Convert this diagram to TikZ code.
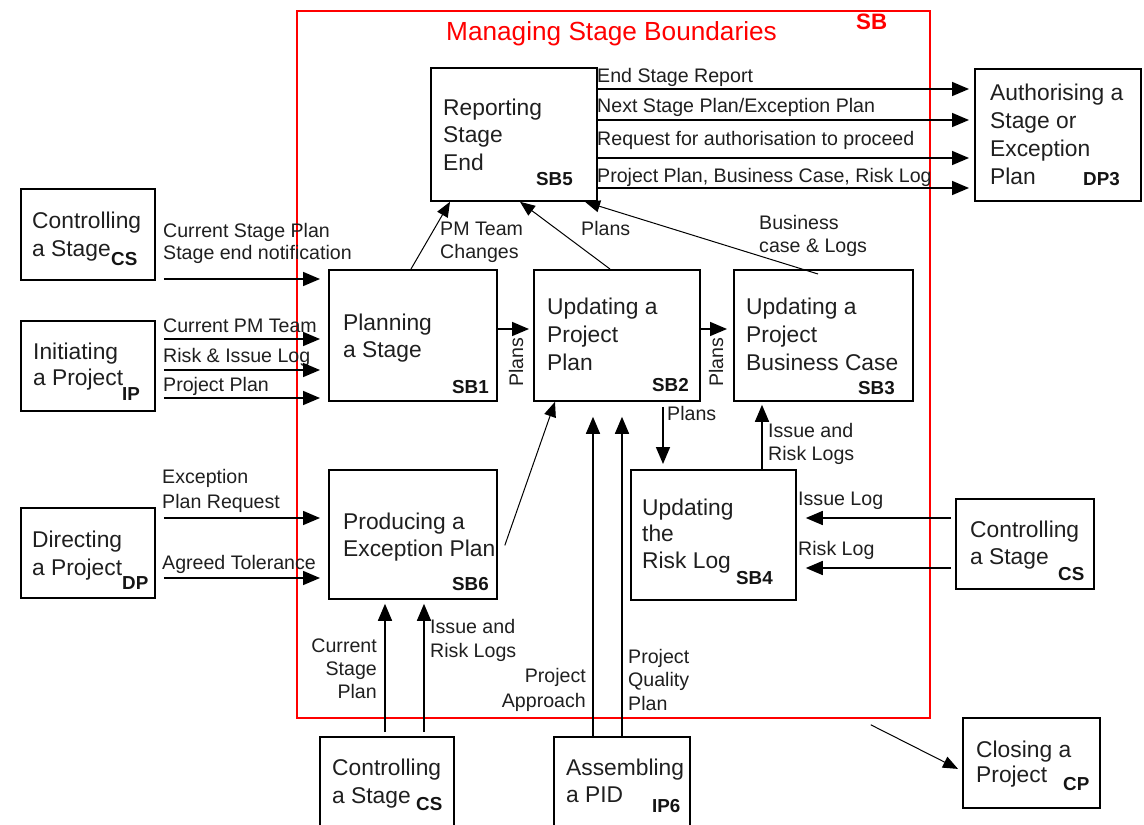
\documentclass[tikz,border=0pt]{standalone}
\usepackage{fontspec}
\setmainfont{Liberation Sans}
\usetikzlibrary{arrows.meta,calc}

% place a column of text lines, one named node per line
\newcommand\stacklines[6]{%
  \foreach \tline [count=\k] in {#6}{%
    \node[#2] (#1-\k) at ({#3},{#4+(\k-1)*#5}) {\tline};}}

\begin{document}
\begin{tikzpicture}[x=1pt,y=-1pt,
  procbox/.style={draw, line width=1.8pt, inner sep=0pt, anchor=north west},
  boxtxt/.style={anchor=base west, inner sep=0pt, text=black!88, font=\fontsize{22.8}{28}\selectfont},
  lbl/.style={anchor=base west, inner sep=0pt, text=black!88, font=\fontsize{19.6}{23}\selectfont},
  lblr/.style={lbl, anchor=base east},
  code/.style={anchor=base west, inner sep=0pt, text=black!92, font=\bfseries\fontsize{18.8}{22}\selectfont},
  arr/.style={line width=1.6pt, -{Triangle[length=17pt,width=14pt]}},
  diag/.style={line width=1pt, -{Triangle[length=15pt,width=12pt]}},
]
\clip (0,0) rectangle (1144,825);

% stage boundary frame
\node[procbox, draw=red, line width=1.8pt, minimum width=633, minimum height=707] (sb) at (296,10) {};
\node[anchor=base west, inner sep=0pt, text=red, font=\fontsize{26.2}{30}\selectfont] (title) at (446,40) {Managing Stage Boundaries};
\node[anchor=base west, inner sep=0pt, text=red, font=\bfseries\fontsize{22.3}{26}\selectfont] (sbcode) at (856,29) {SB};

% process boxes
\node[procbox, minimum width=134, minimum height=91]  (csl) at (20,188) {};
\node[procbox, minimum width=134, minimum height=90]  (ip)  at (20,320) {};
\node[procbox, minimum width=134, minimum height=90]  (dp)  at (20,507) {};
\node[procbox, minimum width=166, minimum height=133] (sb5) at (430,67) {};
\node[procbox, minimum width=166, minimum height=132] (dp3) at (974,68) {};
\node[procbox, minimum width=168, minimum height=131] (sb1) at (328,269) {};
\node[procbox, minimum width=166, minimum height=131] (sb2) at (533,269) {};
\node[procbox, minimum width=179, minimum height=131] (sb3) at (733,269) {};
\node[procbox, minimum width=168, minimum height=129] (sb6) at (328,469) {};
\node[procbox, minimum width=165, minimum height=130] (sb4) at (630,469) {};
\node[procbox, minimum width=138, minimum height=90]  (csr) at (955,498) {};
\node[procbox, minimum width=134, minimum height=114] (csb) at (319,736) {};
\node[procbox, minimum width=136, minimum height=114] (ip6) at (553,736) {};
\node[procbox, minimum width=137, minimum height=90]  (cp)  at (962,717) {};

% box texts
\stacklines{csl-t}{boxtxt}{32}{228}{28}{Controlling,a Stage}
\node[code] (csl-c) at (111,265) {CS};
\stacklines{ip-t}{boxtxt}{33}{359}{26}{Initiating,a Project}
\node[code] (ip-c) at (122,400) {IP};
\stacklines{dp-t}{boxtxt}{32}{547}{28}{Directing,a Project}
\node[code] (dp-c) at (122,589) {DP};
\stacklines{sb5-t}{boxtxt}{443}{115}{27.5}{Reporting,Stage,End}
\node[code] (sb5-c) at (536,185) {SB5};
\stacklines{dp3-t}{boxtxt}{990}{100}{28.3}{Authorising a,Stage or,Exception,Plan}
\node[code] (dp3-c) at (1083,185) {DP3};
\stacklines{sb1-t}{boxtxt}{343}{330}{27}{Planning,a Stage}
\node[code] (sb1-c) at (452,393) {SB1};
\stacklines{sb2-t}{boxtxt}{547}{314}{28}{Updating a,Project,Plan}
\node[code] (sb2-c) at (652,391) {SB2};
\stacklines{sb3-t}{boxtxt}{746}{314}{28}{Updating a,Project,Business Case}
\node[code] (sb3-c) at (858,394) {SB3};
\stacklines{sb6-t}{boxtxt}{343}{529}{27}{Producing a,Exception Plan}
\node[code] (sb6-c) at (452,590) {SB6};
\stacklines{sb4-t}{boxtxt}{642}{515}{26.5}{Updating,the,Risk Log}
\node[code] (sb4-c) at (736,584) {SB4};
\stacklines{csr-t}{boxtxt}{970}{537}{27}{Controlling,a Stage}
\node[code] (csr-c) at (1058,580) {CS};
\stacklines{csb-t}{boxtxt}{332}{775}{28}{Controlling,a Stage}
\node[code] (csb-c) at (416,810) {CS};
\stacklines{ip6-t}{boxtxt}{566}{775}{27}{Assembling,a PID}
\node[code] (ip6-c) at (652,812) {IP6};
\stacklines{cp-t}{boxtxt}{976}{757}{25}{Closing a,Project}
\node[code] (cp-c) at (1063,790) {CP};

% flow labels
\node[lbl] (l-esr) at (597,82)  {End Stage Report};
\node[lbl] (l-nsp) at (597,112) {Next Stage Plan/Exception Plan};
\node[lbl] (l-rfa) at (597,145) {Request for authorisation to proceed};
\node[lbl] (l-ppb) at (597,182) {Project Plan, Business Case, Risk Log};
\stacklines{l-csp}{lbl}{163}{237}{22}{Current Stage Plan,Stage end notification}
\node[lbl] (l-cpm) at (163,332) {Current PM Team};
\node[lbl] (l-ril) at (163,362) {Risk \& Issue Log};
\node[lbl] (l-pp)  at (163,391) {Project Plan};
\stacklines{l-pmt}{lbl}{440}{235}{23}{PM Team,Changes}
\node[lbl] (l-pl1) at (581,235) {Plans};
\stacklines{l-bc}{lbl}{759}{229}{23}{Business,case \& Logs}
\node[lbl, rotate=90] (l-pl2) at (523,387) {Plans};
\node[lbl, rotate=90] (l-pl3) at (723,387) {Plans};
\node[lbl] (l-pl4) at (667,420) {Plans};
\stacklines{l-irl1}{lbl}{768}{437}{23}{Issue and,Risk Logs}
\node[lbl] (l-il) at (798,505) {Issue Log};
\node[lbl] (l-rl) at (798,555) {Risk Log};
\stacklines{l-epr}{lbl}{162}{483}{25}{Exception,Plan Request}
\node[lbl] (l-at) at (162,569) {Agreed Tolerance};
\stacklines{l-csp2}{lblr}{377}{652}{23}{Current,Stage,Plan}
\stacklines{l-irl2}{lbl}{430}{633}{24}{Issue and,Risk Logs}
\stacklines{l-pa}{lblr}{586}{682}{25}{Project,Approach}
\stacklines{l-pqp}{lbl}{628}{663}{23.5}{Project,Quality,Plan}

% outputs of stage-end reporting
\foreach \yy in {89,120,158,188}
  \draw[arr, shorten >=5pt] (sb5.east |- 0,\yy) -- (dp3.west |- 0,\yy);

% inputs from the left
\draw[arr, shorten <=8pt, shorten >=8pt] (csl.east |- 0,279) -- (sb1.west |- 0,279);
\foreach \yy in {339,370,398}
  \draw[arr, shorten <=8pt, shorten >=8pt] (ip.east |- 0,\yy) -- (sb1.west |- 0,\yy);
\foreach \yy in {518,578}
  \draw[arr, shorten <=8pt, shorten >=8pt] (dp.east |- 0,\yy) -- (sb6.west |- 0,\yy);

% internal flows
\draw[arr, shorten >=4pt] (sb1.east |- 0,329) -- (sb2.west |- 0,329);
\draw[arr, shorten >=6pt] (sb2.east |- 0,329) -- (sb3.west |- 0,329);
\draw[arr, shorten <=5pt, shorten >=5pt] (sb2.south -| 663,0) -- (sb4.north -| 663,0);
\draw[arr, shorten >=3pt] (sb4.north -| 762,0) -- (sb3.south -| 762,0);

% inputs from the right and from below
\foreach \yy in {518,568}
  \draw[arr, shorten <=4pt, shorten >=9pt] (csr.west |- 0,\yy) -- (sb4.east |- 0,\yy);
\foreach \xx in {385,424}
  \draw[arr, shorten <=4pt, shorten >=4pt] (csb.north -| \xx,0) -- (sb6.south -| \xx,0);
\foreach \xx in {593,622}
  \draw[arr, shorten >=15pt] (ip6.north -| \xx,0) -- (sb2.south -| \xx,0);

% diagonal flows
\draw[diag] (sb1.north -| 411,0) -- (sb5.south -| 450,0);
\draw[diag] (sb2.north -| 610,0) -- (sb5.south -| 520,0);
\draw[diag] ($(sb3.north -| 818,0)+(0,5)$) -- (sb5.south -| 585,0);
\draw[diag] ($(sb6.east)+(7,11)$) -- (sb2.south -| 555,0);
\draw[diag] ($(sb.south east)+(-60,6)$) -- ($(cp.west)+(-4,6)$);
\end{tikzpicture}
\end{document}
